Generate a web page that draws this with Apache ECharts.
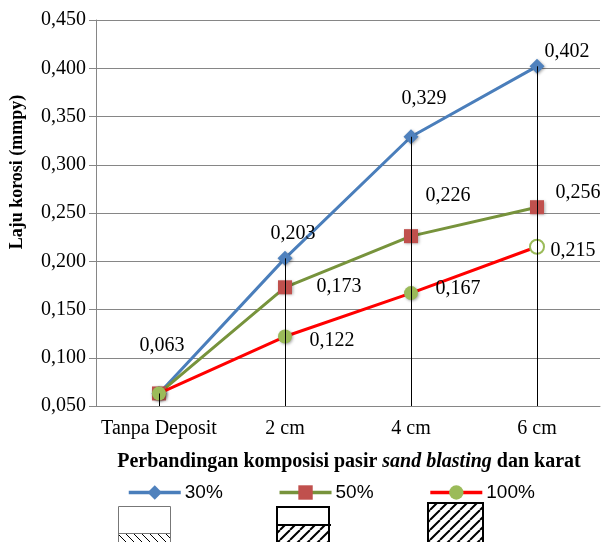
<!DOCTYPE html>
<html>
<head>
<meta charset="utf-8">
<script src="https://cdn.jsdelivr.net/npm/echarts@6/dist/echarts.min.js"></script>
<style>
  html, body { margin: 0; padding: 0; background: #fff; }
  #chart { width: 606px; height: 542px; }
</style>
</head>
<body>
<div id="chart"></div>
<script>
// Corrosion rate (mmpy) for each deposit thickness and sand-blasting sand ratio
const categories = ['Tanpa Deposit', '2 cm', '4 cm', '6 cm'];
const seriesNames = ['30%', '50%', '100%'];
const rate30 = [0.063, 0.203, 0.329, 0.402];
const rate50 = [0.063, 0.173, 0.226, 0.256];
const rate100 = [0.063, 0.122, 0.167, 0.215];
const yTicks = { min: 0.05, max: 0.45, step: 0.05 };

const serif = '"Liberation Serif", "Times New Roman", serif';
const sans = '"Liberation Sans", Arial, sans-serif';
const fmt = v => v.toFixed(3).replace('.', ',');

// label offsets from each marker centre, per series
const offsets30 = [[3, -48], [8, -25], [13, -38], [30, -15]];
const offsets50 = [null, [54, -1], [37, -40], [41, -14]];
const offsets100 = [null, [47, 4], [47, -4], [36, 4]];

function withLabels(values, offs, extra) {
  return values.map((v, i) => {
    const item = { value: v };
    if (offs[i]) {
      item.label = { show: true, position: 'inside', offset: offs[i] };
    }
    if (extra && extra[i]) Object.assign(item, extra[i]);
    return item;
  });
}

const labelStyle = {
  show: false,
  color: '#000',
  fontFamily: serif,
  fontSize: 20,
  formatter: p => fmt(p.value)
};

const markerShadow = {
  shadowBlur: 3,
  shadowColor: 'rgba(0,0,0,0.35)',
  shadowOffsetX: 1,
  shadowOffsetY: 1
};

// drop lines run from the highest value of each category down to the axis
const dropTops = categories.map((_, i) => Math.max(rate30[i], rate50[i], rate100[i]));

function hatch(size, width, back) {
  const c = document.createElement('canvas');
  c.width = size; c.height = size;
  const g = c.getContext('2d');
  g.strokeStyle = '#000';
  g.lineWidth = width;
  g.beginPath();
  for (let k = -1; k <= 1; k++) {
    if (back) {
      g.moveTo(k * size, 0); g.lineTo(k * size + size, size);
    } else {
      g.moveTo(k * size, size); g.lineTo(k * size + size, 0);
    }
  }
  g.stroke();
  return c;
}

const chart = echarts.init(document.getElementById('chart'), null, { renderer: 'canvas' });

chart.setOption({
  animation: false,
  backgroundColor: '#fff',
  grid: { left: 96, right: 6, top: 20, bottom: 136 },
  xAxis: {
    type: 'category',
    data: categories,
    boundaryGap: true,
    axisLine: { lineStyle: { color: '#868686', width: 1 } },
    axisTick: { show: false },
    axisLabel: { color: '#000', fontFamily: serif, fontSize: 20, margin: 13, interval: 0 }
  },
  yAxis: {
    type: 'value',
    min: yTicks.min,
    max: yTicks.max,
    interval: yTicks.step,
    axisLine: { show: true, lineStyle: { color: '#868686', width: 1 } },
    axisTick: { show: true, length: 7, lineStyle: { color: '#868686' } },
    splitLine: { lineStyle: { color: '#868686', width: 1 } },
    axisLabel: { color: '#000', fontFamily: serif, fontSize: 20, margin: 10, formatter: fmt }
  },
  legend: {
    data: seriesNames,
    left: 122,
    top: 478,
    itemWidth: 52,
    itemHeight: 18,
    itemGap: 55,
    lineStyle: { width: 3.5 },
    textStyle: { color: '#000', fontFamily: sans, fontSize: 19, padding: [0, 0, 0, -1] }
  },
  series: [
    {
      name: '30%',
      type: 'line',
      data: withLabels(rate30, offsets30),
      symbol: 'diamond',
      symbolSize: 15,
      lineStyle: { color: '#4A7EBB', width: 3 },
      itemStyle: Object.assign({ color: '#4F81BD' }, markerShadow),
      label: labelStyle,
      z: 3
    },
    {
      name: '50%',
      type: 'line',
      data: withLabels(rate50, offsets50),
      symbol: 'rect',
      symbolSize: 14,
      lineStyle: { color: '#77933C', width: 3 },
      itemStyle: Object.assign({ color: '#C0504D' }, markerShadow),
      label: labelStyle,
      z: 4
    },
    {
      name: '100%',
      type: 'line',
      data: withLabels(rate100, offsets100, [null, null, null,
        { itemStyle: { color: '#fff', borderColor: '#9BBB59', borderWidth: 2, shadowBlur: 0, shadowOffsetX: 0, shadowOffsetY: 0 } }]),
      symbol: 'circle',
      symbolSize: 14,
      lineStyle: { color: '#FF0000', width: 3 },
      itemStyle: Object.assign({ color: '#9BBB59' }, markerShadow),
      label: labelStyle,
      z: 5
    },
    {
      name: 'drop',
      type: 'custom',
      data: dropTops.map((v, i) => [i, v]),
      z: 10,
      silent: true,
      renderItem: (params, api) => {
        const top = api.coord([api.value(0), api.value(1)]);
        const bottom = api.coord([api.value(0), yTicks.min]);
        return {
          type: 'line',
          shape: { x1: Math.round(top[0]) + 0.5, y1: top[1], x2: Math.round(top[0]) + 0.5, y2: bottom[1] },
          style: { stroke: '#000', lineWidth: 1 }
        };
      }
    }
  ],
  graphic: [
    {
      type: 'text',
      x: 17, y: 172,
      rotation: Math.PI / 2,
      style: {
        text: 'Laju korosi (mmpy)',
        fill: '#000',
        font: 'bold 18px ' + serif,
        align: 'center',
        verticalAlign: 'middle'
      }
    },
    {
      type: 'text',
      x: 349, y: 462,
      style: {
        text: '{b|Perbandingan komposisi pasir }{i|sand blasting}{b| dan karat}',
        align: 'center',
        verticalAlign: 'middle',
        rich: {
          b: { fontFamily: serif, fontWeight: 'bold', fontSize: 20, fill: '#000' },
          i: { fontFamily: serif, fontWeight: 'bold', fontStyle: 'italic', fontSize: 20, fill: '#000' }
        }
      }
    },
    // layer sketches under the legend
    {
      type: 'rect',
      shape: { x: 118.5, y: 533.5, width: 52, height: 20 },
      style: { fill: { image: hatch(8, 1, true), repeat: 'repeat' }, stroke: 'none' }
    },
    {
      type: 'rect',
      shape: { x: 118.5, y: 506.5, width: 52, height: 50 },
      style: { fill: 'none', stroke: '#777', lineWidth: 1 }
    },
    {
      type: 'line',
      shape: { x1: 118.5, y1: 533.5, x2: 170.5, y2: 533.5 },
      style: { stroke: '#777', lineWidth: 1 }
    },
    {
      type: 'rect',
      shape: { x: 277, y: 525, width: 52, height: 30 },
      style: { fill: { image: hatch(10, 2, false), repeat: 'repeat' }, stroke: 'none' }
    },
    {
      type: 'rect',
      shape: { x: 277, y: 507, width: 52, height: 50 },
      style: { fill: 'none', stroke: '#000', lineWidth: 2 }
    },
    {
      type: 'line',
      shape: { x1: 277, y1: 525, x2: 331, y2: 525 },
      style: { stroke: '#000', lineWidth: 2 }
    },
    {
      type: 'rect',
      shape: { x: 428, y: 503, width: 55, height: 50 },
      style: { fill: { image: hatch(10, 2, false), repeat: 'repeat' }, stroke: '#000', lineWidth: 2 }
    }
  ]
});
</script>
</body>
</html>
